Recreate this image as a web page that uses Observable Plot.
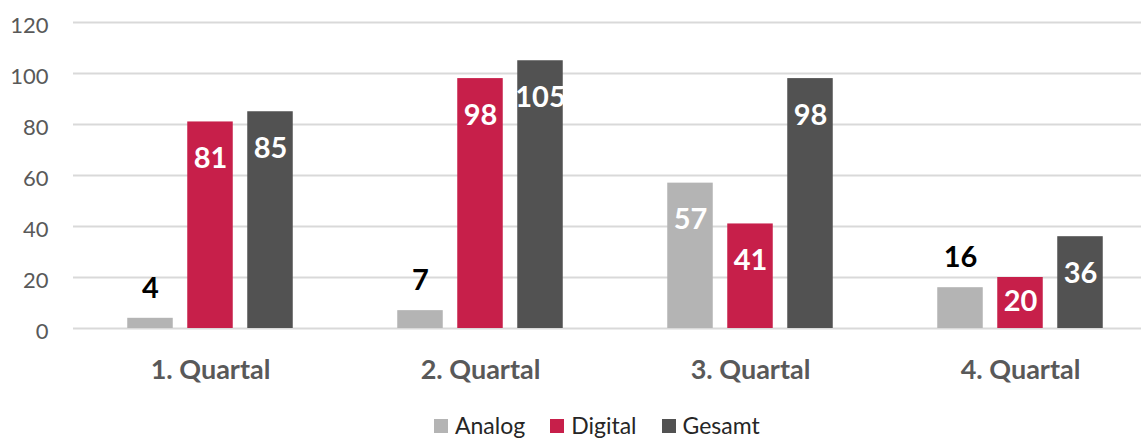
<!DOCTYPE html>
<html>
<head>
<meta charset="utf-8">
<script src="https://cdn.jsdelivr.net/npm/d3@7"></script>
<script src="https://cdn.jsdelivr.net/npm/@observablehq/plot@0.6"></script>
<style>
  html, body { margin: 0; padding: 0; background: #fff; }
  #wrap { position: relative; width: 1141px; height: 443px; overflow: hidden; font-family: Lato, "Open Sans", sans-serif; }
  #legend { position: absolute; top: 412px; left: 434px; display: flex; align-items: center; font-size: 23px; line-height: 27px; color: #262626; }
  #legend .item { display: flex; align-items: center; margin-right: 25px; }
  #legend .sw { width: 14px; height: 14px; margin-right: 7px; }
</style>
</head>
<body>
<div id="wrap">
  <div id="chart"></div>
  <div id="legend"></div>
</div>
<script>
const quarters = ["1. Quartal", "2. Quartal", "3. Quartal", "4. Quartal"];
const seriesNames = ["Analog", "Digital", "Gesamt"];
const analog = [4, 7, 57, 16];
const digital = [81, 98, 41, 20];
const gesamt = [85, 105, 98, 36];
const yTicks = [0, 20, 40, 60, 80, 100, 120];

const colors = { Analog: "#b4b4b4", Digital: "#c71f4a", Gesamt: "#525252" };
const values = { Analog: analog, Digital: digital, Gesamt: gesamt };
const offsets = { Analog: -60, Digital: 0, Gesamt: 60 };

const data = [];
seriesNames.forEach(s => quarters.forEach((q, i) => data.push({ quarter: q, series: s, value: values[s][i] })));

const bandStep = 270, barW = 45.5;
const inset = (bandStep - barW) / 2;
const pxPerUnit = (328 - 22) / 120;

const marks = [
  Plot.ruleY(yTicks, { stroke: "#d9d9d9", strokeWidth: 2 }),
  Plot.axisY({ ticks: yTicks, tickSize: 0, tickPadding: 25, fontSize: 22, fill: "#595959", label: null, dy: 3 }),
  Plot.axisX({ tickSize: 0, tickPadding: 31, fontSize: 27, fontWeight: "bold", fill: "#595959", label: null })
];

for (const s of seriesNames) {
  const rows = data.filter(d => d.series === s);
  marks.push(Plot.barY(rows, {
    x: "quarter", y: "value", fill: colors[s],
    insetLeft: inset, insetRight: inset, dx: offsets[s]
  }));
  // inside labels
  marks.push(Plot.text(rows.filter(d => d.value >= 18), {
    x: "quarter",
    y: d => d.value - Math.min(37 / pxPerUnit, d.value / 2 - 0.5),
    text: d => String(d.value),
    dx: offsets[s], fill: "#fff", fontSize: 29, fontWeight: "bold", lineAnchor: "middle"
  }));
  // outside labels
  marks.push(Plot.text(rows.filter(d => d.value < 18), {
    x: "quarter",
    y: d => d.value + 30 / pxPerUnit,
    text: d => String(d.value),
    dx: offsets[s], fill: "#000", fontSize: 29, fontWeight: "bold", lineAnchor: "middle"
  }));
}

const chart = Plot.plot({
  width: 1141,
  height: 410,
  marginTop: 22,
  marginBottom: 82,
  marginLeft: 73,
  marginRight: 0,
  style: { fontFamily: "Lato, 'Open Sans', sans-serif", background: "#fff", overflow: "visible" },
  x: { domain: quarters, range: [74.5, 74.5 + 4 * bandStep], padding: 0, axis: null },
  y: { domain: [0, 120], axis: null },
  marks
});
document.getElementById("chart").appendChild(chart);

const legend = document.getElementById("legend");
seriesNames.forEach(s => {
  const item = document.createElement("div");
  item.className = "item";
  const sw = document.createElement("div");
  sw.className = "sw";
  sw.style.background = colors[s];
  const label = document.createElement("span");
  label.textContent = s;
  item.appendChild(sw);
  item.appendChild(label);
  legend.appendChild(item);
});
</script>
</body>
</html>
